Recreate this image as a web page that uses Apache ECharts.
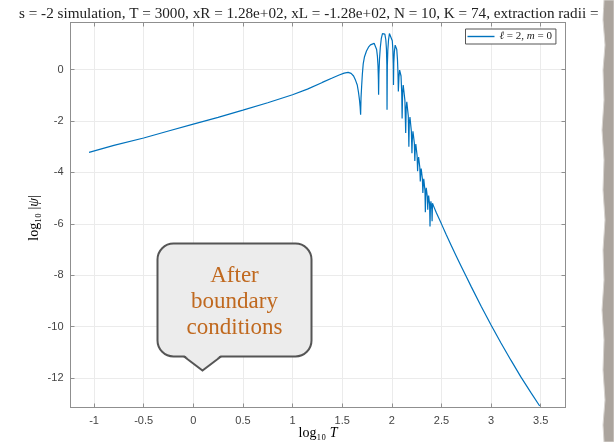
<!DOCTYPE html>
<html>
<head>
<meta charset="utf-8">
<script src="https://cdn.jsdelivr.net/npm/echarts@6/dist/echarts.min.js"></script>
<style>
html,body{margin:0;padding:0;background:#fff;}
#c{width:614px;height:442px;}
</style>
</head>
<body>
<div id="c"></div>
<script>
// ---- data ----
const titleText = 's = -2 simulation, T = 3000, xR = 1.28e+02, xL = -1.28e+02, N = 10, K = 74, extraction radii = [';
const seriesName = 'ℓ = 2, m = 0';
const xRange = [-1.237, 3.75];
const yRange = [-13.14, 1.83];
const xTickStep = 0.5;
const yTickStep = 2;
const calloutLines = ['After', 'boundary', 'conditions'];

const logT = [
  -1.05, -0.8, -0.5, -0.25, 0, 0.25, 0.5, 0.75, 1.0, 1.15, 1.3, 1.4, 1.47, 1.52, 1.56, 1.59, 1.615, 1.635, 1.652, 1.665, 1.675, 1.681, 1.686,
  1.69, 1.696, 1.703, 1.712, 1.725, 1.745, 1.765, 1.785, 1.805, 1.822, 1.836, 1.847, 1.855, 1.861, 1.865, 1.867,
  1.870, 1.876, 1.884, 1.894, 1.906, 1.918, 1.93, 1.94, 1.946, 1.95, 1.952,
  1.955, 1.96, 1.967, 1.976, 1.986, 1.996, 2.005, 2.011, 2.015, 2.017,
  2.020, 2.026, 2.034, 2.042, 2.05, 2.057, 2.062, 2.066,
  2.072, 2.079, 2.086, 2.093, 2.1, 2.104,
  2.109, 2.115, 2.122, 2.132, 2.14,
  2.145, 2.151, 2.158, 2.166, 2.172,
  2.176, 2.183, 2.19, 2.197, 2.203,
  2.207, 2.213, 2.22, 2.227, 2.232,
  2.236, 2.242, 2.249, 2.255, 2.26,
  2.264, 2.27, 2.276, 2.282, 2.287,
  2.291, 2.296, 2.302, 2.308, 2.313,
  2.317, 2.322, 2.328, 2.334, 2.338,
  2.342, 2.347, 2.353, 2.358, 2.362,
  2.366, 2.371, 2.377, 2.381, 2.385,
  2.389, 2.394, 2.399, 2.403, 2.406,
  2.41, 2.415, 2.42,
  2.45, 2.5, 2.55, 2.6, 2.65, 2.7, 2.75, 2.8, 2.9, 3.0, 3.1, 3.2, 3.3, 3.4, 3.49
];
const logPsi = [
  -3.22, -2.95, -2.66, -2.39, -2.12, -1.86, -1.58, -1.29, -0.98, -0.76, -0.5, -0.33, -0.21, -0.14, -0.11, -0.15, -0.25, -0.42, -0.6, -0.9, -1.2, -1.45, -1.76,
  -1.1, -0.66, -0.2, 0.22, 0.5, 0.72, 0.87, 0.96, 1.01, 1.02, 0.95, 0.78, 0.52, 0.15, -0.4, -0.98,
  -0.2, 0.4, 0.85, 1.2, 1.4, 1.45, 1.38, 1.15, 0.8, 0.2, -1.56,
  0.15, 0.75, 1.15, 1.4, 1.46, 1.38, 1.12, 0.75, 0.2, -0.6,
  0.25, 0.7, 0.95, 0.97, 0.78, 0.4, -0.1, -0.85,
  -0.3, -0.02, 0.02, -0.25, -0.9, -1.9,
  -0.9, -0.6, -0.62, -1.2, -2.47,
  -1.5, -1.25, -1.3, -1.8, -3.0,
  -2.1, -1.85, -1.9, -2.4, -3.25,
  -2.7, -2.4, -2.45, -2.85, -3.55,
  -3.1, -2.9, -2.95, -3.35, -3.95,
  -3.6, -3.4, -3.45, -3.8, -4.35,
  -4.05, -3.85, -3.9, -4.25, -4.8,
  -4.5, -4.25, -4.3, -4.7, -5.55,
  -4.85, -4.6, -4.65, -4.95, -5.45,
  -5.1, -4.9, -4.95, -5.25, -6.1,
  -5.35, -5.12, -5.15, -5.45, -5.9,
  -5.2, -5.18, -5.3,
  -5.58, -6.0, -6.43, -6.85, -7.26, -7.66, -8.05, -8.44, -9.2, -9.93, -10.63, -11.3, -11.95, -12.55, -13.08
];

// ---- chart ----
const chart = echarts.init(document.getElementById('c'), null, {renderer: 'canvas'});
const lineBlue = '#0072BD';
const axisGray = '#8f8f8f';
const gridGray = '#ebebeb';
const labelCol = '#444';
const sansFont = '"Liberation Sans", Arial, Helvetica, sans-serif';
const serifFont = '"Liberation Serif", "DejaVu Serif", serif';

function axisCommon(isX, primary) {
  return {
    type: 'value',
    min: isX ? xRange[0] : yRange[0],
    max: isX ? xRange[1] : yRange[1],
    minInterval: isX ? xTickStep : yTickStep,
    maxInterval: isX ? xTickStep : yTickStep,
    splitNumber: isX ? 10 : 8,
    axisLine: {show: true, onZero: false, lineStyle: {color: axisGray, width: 1}},
    axisTick: {show: true, inside: true, length: 4, lineStyle: {color: axisGray}},
    splitLine: {show: primary, lineStyle: {color: gridGray, width: 1}},
    axisLabel: {
      show: primary,
      showMinLabel: false,
      showMaxLabel: false,
      color: labelCol,
      fontFamily: sansFont,
      fontSize: 11,
      margin: isX ? 8 : 7,
      formatter: v => String(v)
    }
  };
}

const nameRich = {
  n: {fontFamily: serifFont, fontSize: 14, color: '#333'},
  i: {fontFamily: serifFont, fontSize: 14, fontStyle: 'italic', color: '#333'}
};

const xMain = Object.assign(axisCommon(true, true), {position: 'bottom'});
const xTop = Object.assign(axisCommon(true, false), {position: 'top'});
const yMain = Object.assign(axisCommon(false, true), {position: 'left'});
const yRight = Object.assign(axisCommon(false, false), {position: 'right'});

// torn paper edge on the right (decoration)
const tornPts = [[614,0],[604,0],[603,20],[605,45],[603,70],[604,100],[602,130],[604,160],[603,190],[605,220],[603,250],[604,280],[602,310],[604,340],[603,370],[605,400],[603,425],[604,442],[614,442]];

chart.setOption({
  animation: false,
  backgroundColor: '#fff',
  title: {
    text: titleText,
    left: 14,
    top: 2,
    textStyle: {fontFamily: serifFont, fontSize: 15.2, fontWeight: 'normal', color: '#222'}
  },
  legend: {
    left: 465.5,
    top: 29,
    orient: 'horizontal',
    itemWidth: 27,
    itemHeight: 1.4,
    icon: 'rect',
    padding: [2, 4, 2, 2],
    borderColor: '#555',
    borderWidth: 1,
    borderRadius: 0,
    backgroundColor: '#fff',
    formatter: () => '{i|ℓ}{n| = 2, }{i|m}{n| = 0}',
    textStyle: {
      rich: {
        i: {fontFamily: serifFont, fontSize: 11, fontStyle: 'italic', color: '#222'},
        n: {fontFamily: serifFont, fontSize: 11, color: '#222'}
      }
    },
    data: [seriesName]
  },
  grid: {left: 70.5, right: 48.5, top: 22.5, bottom: 34.5, containLabel: false, outerBoundsMode: 'none'},
  xAxis: [xMain, xTop],
  yAxis: [yMain, yRight],
  series: [{
    name: seriesName,
    type: 'line',
    xAxisIndex: 0,
    yAxisIndex: 0,
    data: logT.map((x, i) => [x, logPsi[i]]),
    symbol: 'none',
    showSymbol: false,
    smooth: false,
    lineStyle: {color: lineBlue, width: 1.2},
    itemStyle: {color: lineBlue},
    z: 3
  }],
  graphic: [
    {
      type: 'text',
      x: 318,
      y: 433,
      style: {
        text: '{n|log₁₀ }{i|T}',
        rich: nameRich,
        align: 'center',
        verticalAlign: 'middle'
      },
      z: 5
    },
    {
      type: 'text',
      x: 34,
      y: 218,
      rotation: Math.PI / 2,
      style: {
        text: '{n|log₁₀ |}{i|ψ}{n||}',
        rich: nameRich,
        align: 'center',
        verticalAlign: 'middle'
      },
      z: 5
    },
    {
      type: 'rect',
      shape: {x: 157.5, y: 243.5, width: 154, height: 113, r: 16},
      style: {fill: '#ececec', stroke: '#555', lineWidth: 2},
      z: 10
    },
    {
      type: 'polygon',
      shape: {points: [[183, 354], [202.5, 370], [222, 354]]},
      style: {fill: '#ececec'},
      z: 11
    },
    {
      type: 'polyline',
      shape: {points: [[184, 356.5], [202.5, 370.5], [221, 356.5]]},
      style: {stroke: '#555', lineWidth: 2, fill: null},
      z: 12
    },
    {
      type: 'text',
      x: 234.5,
      y: 263,
      style: {
        text: calloutLines.join('\n'),
        fill: '#c0691f',
        font: '23px "Liberation Serif", serif',
        align: 'center',
        verticalAlign: 'top',
        lineHeight: 26
      },
      z: 13
    },
    {
      type: 'polygon',
      shape: {points: tornPts},
      style: {fill: '#aba49d', stroke: '#d8d4d0', lineWidth: 1},
      z: 20
    }
  ]
});
</script>
</body>
</html>
